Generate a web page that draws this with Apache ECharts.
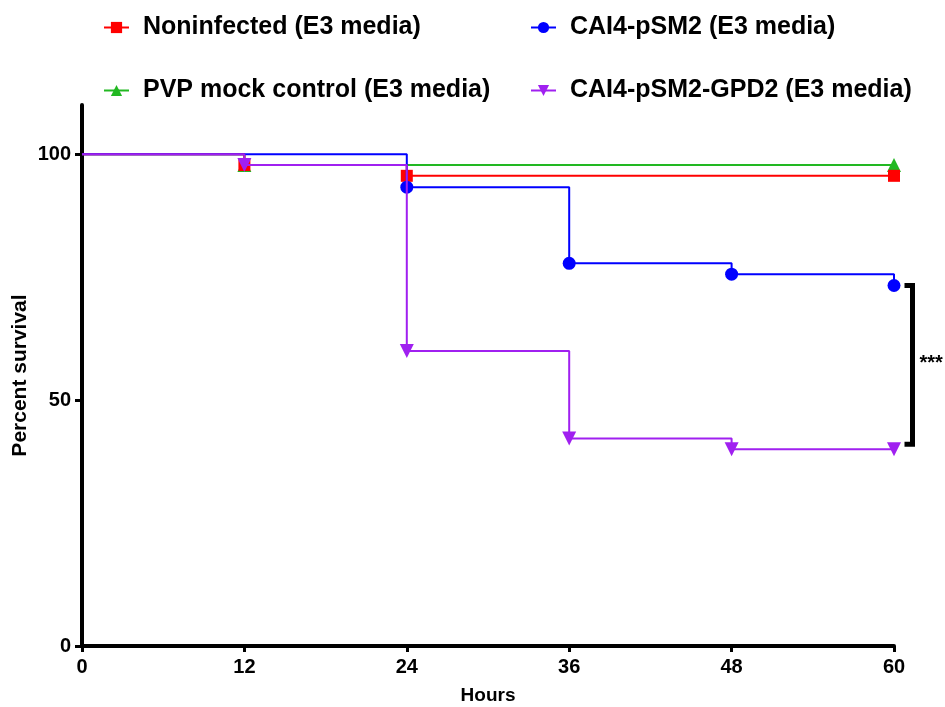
<!DOCTYPE html>
<html>
<head>
<meta charset="utf-8">
<script src="https://cdn.jsdelivr.net/npm/echarts@6/dist/echarts.min.js"></script>
<style>
  html, body { margin: 0; padding: 0; background: #fff; }
  #chart { width: 945px; height: 707px; }
</style>
</head>
<body>
<div id="chart"></div>
<script>
// Kaplan-Meier survival, percent, at each event time (hours)
const hourTicks = [0, 12, 24, 36, 48, 60];
const survivalTicks = [0, 50, 100];

const noninfectedHours = [0, 12, 24, 60];
const noninfectedSurvival = [100, 97.8, 95.6, 95.6];

const pSM2Hours = [0, 24, 36, 48, 60];
const pSM2Survival = [100, 93.3, 77.8, 75.6, 73.3];

const pvpHours = [0, 12, 60];
const pvpSurvival = [100, 97.8, 97.8];

const gpd2Hours = [0, 12, 24, 36, 48, 60];
const gpd2Survival = [100, 97.8, 60, 42.2, 40, 40];

const seriesNames = [
  'Noninfected (E3 media)',
  'CAI4-pSM2 (E3 media)',
  'PVP mock control (E3 media)',
  'CAI4-pSM2-GPD2 (E3 media)'
];

// bracket between the two infected groups at the last time point
const bracketTop = 73.3;
const bracketBottom = 41;
const bracketLabel = '***';

const FONT = '"Liberation Sans", Arial, sans-serif';

function pairs(xs, ys) {
  // no marker at the starting point
  return xs.map((x, i) => i === 0 ? { value: [x, ys[i]], symbol: 'none' } : [x, ys[i]]);
}

function kmSeries(name, xs, ys, color, symbol, size, z) {
  return {
    name: name,
    type: 'line',
    step: 'end',
    data: pairs(xs, ys),
    symbol: symbol,
    symbolSize: size,
    showAllSymbol: true,
    color: color,
    lineStyle: { width: 2, color: color },
    itemStyle: { color: color },
    z: z,
    animation: false
  };
}

const chart = echarts.init(document.getElementById('chart'), null, { renderer: 'canvas' });

function legendAt(name, left, top) {
  return {
    data: [name],
    left: left,
    top: top,
    itemWidth: 25,
    itemHeight: 14,
    padding: 0,
    selectedMode: false,
    textStyle: {
      fontFamily: FONT,
      fontWeight: 'bold',
      fontSize: 25,
      color: '#000',
      padding: [0, 0, 0, 9]
    }
  };
}

chart.setOption({
  backgroundColor: '#fff',
  animation: false,
  legend: [
    legendAt(seriesNames[0], 103, 15),
    legendAt(seriesNames[1], 530, 15),
    legendAt(seriesNames[2], 103, 78),
    legendAt(seriesNames[3], 530, 78)
  ],
  grid: {
    left: 82, right: 51, top: 105, bottom: 61,
    containLabel: false,
    outerBoundsMode: 'none'
  },
  xAxis: {
    type: 'value',
    min: 0,
    max: 60,
    interval: 12,
    name: 'Hours',
    nameLocation: 'middle',
    nameGap: 40,
    nameMoveOverlap: false,
    nameTextStyle: { fontFamily: FONT, fontWeight: 'bold', fontSize: 19, color: '#000' },
    splitLine: { show: false },
    axisLine: { lineStyle: { color: '#000', width: 4 } },
    axisTick: { length: 6, lineStyle: { color: '#000', width: 3 } },
    axisLabel: {
      fontFamily: FONT, fontWeight: 'bold', fontSize: 20, color: '#000', margin: 11,
      formatter: v => hourTicks.includes(v) ? String(v) : ''
    }
  },
  yAxis: {
    type: 'value',
    min: 0,
    max: 110,
    name: 'Percent survival',
    nameLocation: 'middle',
    nameGap: 51,
    nameRotate: 90,
    nameMoveOverlap: false,
    nameTextStyle: { fontFamily: FONT, fontWeight: 'bold', fontSize: 21, color: '#000' },
    splitLine: { show: false },
    axisLine: { show: true, lineStyle: { color: '#000', width: 4 } },
    axisTick: { show: true, length: 7, lineStyle: { color: '#000', width: 3 }, customValues: survivalTicks },
    axisLabel: {
      fontFamily: FONT, fontWeight: 'bold', fontSize: 20, color: '#000', margin: 11,
      customValues: survivalTicks
    }
  },
  series: [
    kmSeries(seriesNames[0], noninfectedHours, noninfectedSurvival, '#ff0000', 'rect', 12, 3),
    kmSeries(seriesNames[1], pSM2Hours, pSM2Survival, '#0000ff', 'circle', 13, 4),
    kmSeries(seriesNames[2], pvpHours, pvpSurvival, '#22b822', 'triangle', 14, 2),
    kmSeries(seriesNames[3], gpd2Hours, gpd2Survival, '#a020f0', 'path://M0,0 L10,0 L5,10 Z', 14, 5)
  ]
});

// significance bracket to the right of the last time point
const topPt = chart.convertToPixel({ gridIndex: 0 }, [60, bracketTop]);
const botPt = chart.convertToPixel({ gridIndex: 0 }, [60, bracketBottom]);
const bx = topPt[0] + 18.5;
chart.setOption({
  graphic: [
    {
      type: 'polyline',
      shape: { points: [[bx - 8, topPt[1]], [bx, topPt[1]], [bx, botPt[1]], [bx - 8, botPt[1]]] },
      style: { stroke: '#000', lineWidth: 5, fill: null },
      z: 10
    },
    {
      type: 'text',
      x: bx + 7,
      y: (topPt[1] + botPt[1]) / 2 - 1,
      style: {
        text: bracketLabel,
        font: 'bold 20px ' + FONT,
        fill: '#000',
        textVerticalAlign: 'middle'
      },
      z: 10
    }
  ]
});
</script>
</body>
</html>
